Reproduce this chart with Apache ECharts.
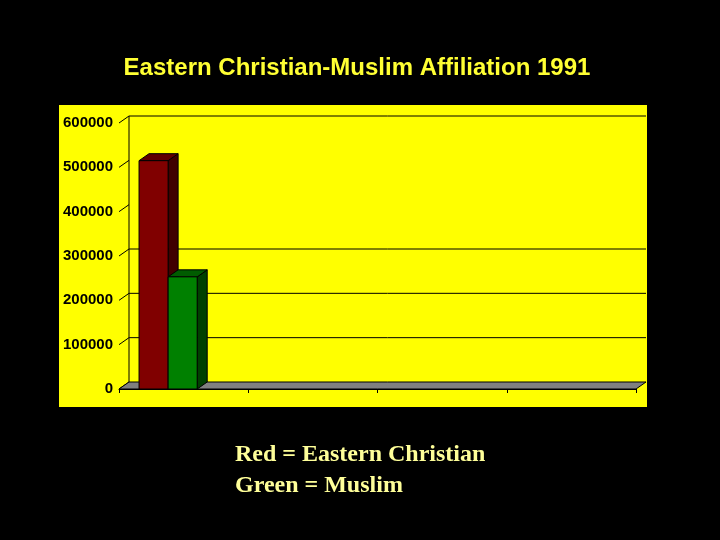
<!DOCTYPE html>
<html>
<head>
<meta charset="utf-8">
<script src="https://cdn.jsdelivr.net/npm/echarts@6/dist/echarts.min.js"></script>
<style>
html,body{margin:0;padding:0;background:#000;}
#chart{width:720px;height:540px;}
</style>
</head>
<body>
<div id="chart"></div>
<script>
// ---- data ----
const categories = ['1991', '', ' ', '  '];
const christian = [515000, null, null, null];
const muslim = [253000, null, null, null];
const yTicks = [0, 100000, 200000, 300000, 400000, 500000, 600000];
const wallGridValues = [100000, 200000, 300000, 600000];
const legendLines = ['Red = Eastern Christian', 'Green = Muslim'];
const titleText = 'Eastern Christian-Muslim Affiliation 1991';

// ---- style constants ----
const DX = 10, DY = -7;
const BAR_OFFSET = 0.155, BAR_FRAC = 0.225;

const chart = echarts.init(document.getElementById('chart'));

function toPairs(arr) {
  const out = [];
  arr.forEach((v, i) => { if (v != null) out.push([i, v]); });
  return out;
}

function barRenderer(slot, front, top, side) {
  return function (params, api) {
    const idx = api.value(0), val = api.value(1);
    const base = api.coord([idx, 0]);
    const w = api.size([1, 0])[0];
    const bw = BAR_FRAC * w;
    const x0 = base[0] - w / 2 + BAR_OFFSET * w + slot * bw;
    const yt = api.coord([idx, val])[1];
    const yb = base[1];
    const st = { stroke: '#000', lineWidth: 1 };
    return {
      type: 'group',
      children: [
        { type: 'polygon', shape: { points: [[x0 + bw, yt], [x0 + bw + DX, yt + DY], [x0 + bw + DX, yb + DY], [x0 + bw, yb]] }, style: Object.assign({ fill: side }, st) },
        { type: 'polygon', shape: { points: [[x0, yt], [x0 + bw, yt], [x0 + bw + DX, yt + DY], [x0 + DX, yt + DY]] }, style: Object.assign({ fill: top }, st) },
        { type: 'rect', shape: { x: x0, y: yt, width: bw, height: yb - yt }, style: Object.assign({ fill: front }, st) }
      ]
    };
  };
}

const option = {
  backgroundColor: '#000',
  animation: false,
  grid: [
    { left: 59, top: 105, width: 588, height: 302, show: true, backgroundColor: '#FFFF00', borderWidth: 0 },
    { left: 119, top: 123, width: 517, height: 266 }
  ],
  xAxis: [
    { gridIndex: 0, type: 'value', show: false },
    {
      gridIndex: 1, type: 'category', data: categories, boundaryGap: true,
      axisLine: { show: true, lineStyle: { color: '#000', width: 1 } },
      axisTick: { show: true, length: 4, lineStyle: { color: '#000' } },
      axisLabel: { show: false },
      splitLine: { show: false }
    }
  ],
  yAxis: [
    { gridIndex: 0, type: 'value', show: false },
    {
      gridIndex: 1, type: 'value', min: 0, max: 600000, interval: 100000,
      axisLine: { show: false }, axisTick: { show: false },
      splitLine: { show: false },
      axisLabel: { show: true, margin: 6, color: '#000', fontFamily: 'Liberation Sans, Arial, sans-serif', fontWeight: 'bold', fontSize: 15, formatter: function (v) { return String(v); } }
    }
  ],
  series: [
    {
      type: 'custom', name: 'wall', xAxisIndex: 1, yAxisIndex: 1, z: 1,
      data: wallGridValues.map(v => [0, v]),
      renderItem: function (params, api) {
        const cs = params.coordSys;
        const y = api.coord([0, api.value(1)])[1];
        return { type: 'line', shape: { x1: cs.x + DX, y1: y + DY, x2: cs.x + cs.width + DX, y2: y + DY }, style: { stroke: '#000', lineWidth: 1 } };
      }
    },
    {
      type: 'custom', name: 'wallTicks', xAxisIndex: 1, yAxisIndex: 1, z: 1,
      data: yTicks.map(v => [0, v]),
      renderItem: function (params, api) {
        const cs = params.coordSys;
        const y = api.coord([0, api.value(1)])[1];
        const children = [{ type: 'line', shape: { x1: cs.x, y1: y, x2: cs.x + DX, y2: y + DY }, style: { stroke: '#000', lineWidth: 1 } }];
        if (params.dataIndex === 0) {
          children.push({ type: 'line', shape: { x1: cs.x + DX, y1: cs.y + DY, x2: cs.x + DX, y2: cs.y + cs.height + DY }, style: { stroke: '#000', lineWidth: 1 } });
        }
        return { type: 'group', children: children };
      }
    },
    {
      type: 'custom', name: 'floor', xAxisIndex: 1, yAxisIndex: 1, z: 2,
      data: [[0, 0]],
      renderItem: function (params, api) {
        const cs = params.coordSys;
        const y = api.coord([0, 0])[1];
        const xl = cs.x, xr = cs.x + cs.width;
        return { type: 'polygon', shape: { points: [[xl, y], [xr, y], [xr + DX, y + DY], [xl + DX, y + DY]] }, style: { fill: '#808080', stroke: '#000', lineWidth: 1 } };
      }
    },
    {
      type: 'custom', name: 'Eastern Christian', xAxisIndex: 1, yAxisIndex: 1, z: 3,
      data: toPairs(christian),
      renderItem: barRenderer(0, '#800000', '#600000', '#400000')
    },
    {
      type: 'custom', name: 'Muslim', xAxisIndex: 1, yAxisIndex: 1, z: 4,
      data: toPairs(muslim),
      renderItem: barRenderer(1, '#008000', '#005c00', '#004000')
    }
  ],
  graphic: [
    { type: 'text', x: 357, y: 68, style: { text: titleText, fill: '#FFFF33', font: 'bold 24px "Liberation Sans", Arial, sans-serif', textAlign: 'center', textVerticalAlign: 'middle' } },
    { type: 'text', x: 235, y: 455, style: { text: legendLines[0], fill: '#FFFF99', font: 'bold 24px "Liberation Serif", "Times New Roman", serif', textAlign: 'left', textVerticalAlign: 'middle' } },
    { type: 'text', x: 235, y: 486, style: { text: legendLines[1], fill: '#FFFF99', font: 'bold 24px "Liberation Serif", "Times New Roman", serif', textAlign: 'left', textVerticalAlign: 'middle' } }
  ]
};
chart.setOption(option);
</script>
</body>
</html>
